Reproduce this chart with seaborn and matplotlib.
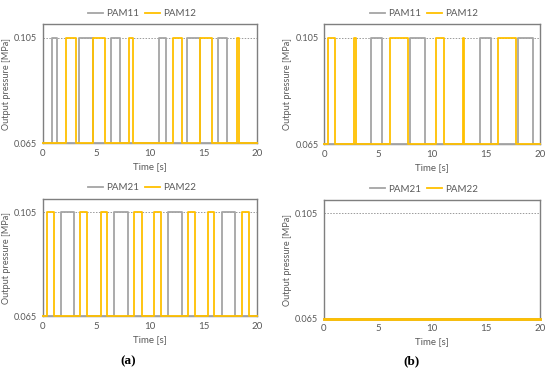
import numpy as np
import pandas as pd
import matplotlib
matplotlib.use("Agg")
import matplotlib.pyplot as plt
import seaborn as sns

# ---- data: pulse intervals (start, end) in seconds at high pressure ----
P_LOW = 0.065
P_HIGH = 0.105
T_END = 20

a_top_pam11 = [(0.84, 1.30), (3.39, 4.66), (6.37, 7.20), (10.87, 11.46), (13.42, 14.66), (16.37, 17.14)]
a_top_pam12 = [(2.17, 3.07), (4.72, 5.84), (8.07, 8.39), (12.11, 13.01), (14.62, 15.80), (18.07, 18.32)]

b_top_pam11 = [(4.32, 5.31), (7.90, 9.32), (14.41, 15.40), (17.90, 19.35)]
b_top_pam12 = [(0.37, 0.99), (2.78, 2.90), (6.08, 7.72), (10.37, 11.05), (12.81, 12.93), (16.11, 17.72)]

a_bot_pam21 = [(1.68, 2.92), (6.68, 7.92), (11.71, 12.95), (16.74, 17.92)]
a_bot_pam22 = [(0.43, 1.06), (3.48, 4.16), (5.40, 5.96), (8.51, 9.22), (10.40, 10.99),
               (13.51, 14.19), (15.43, 15.96), (18.54, 19.25)]

b_bot_pam21 = []
b_bot_pam22 = []

x_ticks = [0, 5, 10, 15, 20]
y_ticks = [0.065, 0.105]
y_tick_labels = ["0.065", "0.105"]

GRAY = "#A5A5A5"
YELLOW = "#FFC000"
TEXT = "#595959"


def step_frame(pulses, name):
    t = [0.0]
    p = [P_LOW]
    for s, e in pulses:
        t += [s, s, e, e]
        p += [P_LOW, P_HIGH, P_HIGH, P_LOW]
    t.append(T_END)
    p.append(P_LOW)
    return pd.DataFrame({"t": t, "p": p, "series": name})


plt.rcParams["font.family"] = ["Lato", "DejaVu Sans"]

fig = plt.figure(figsize=(5.5, 3.7), dpi=100)

panels = [
    ([0.0776, 0.6127, 0.3902, 0.3216], a_top_pam11, a_top_pam12, ("PAM11", "PAM12"), (142, 14), 1.3),
    ([0.5896, 0.6108, 0.3927, 0.3235], b_top_pam11, b_top_pam12, ("PAM11", "PAM12"), (424, 14), 1.3),
    ([0.0776, 0.1459, 0.3902, 0.3162], a_bot_pam21, a_bot_pam22, ("PAM21", "PAM22"), (142, 188), 1.3),
    ([0.5885, 0.1386, 0.3938, 0.3200], b_bot_pam21, b_bot_pam22, ("PAM21", "PAM22"), (424, 189), 2.0),
]

for rect, s1, s2, names, leg_pos, lw in panels:
    ax = fig.add_axes(rect)
    df = pd.concat([step_frame(s1, names[0]), step_frame(s2, names[1])], ignore_index=True)
    sns.lineplot(data=df, x="t", y="p", hue="series", palette=[GRAY, YELLOW],
                 estimator=None, sort=False, ax=ax, linewidth=lw, legend=False)
    for ln in ax.lines:
        ln.set_clip_on(False)
        ln.set_zorder(3)
    ax.axhline(P_HIGH, color="#9a9a9a", linestyle=(0, (1.5, 1.5)), linewidth=0.7, zorder=0)
    ax.set_xlim(0, 20)
    ax.set_ylim(0.065, 0.110)
    ax.set_xticks(x_ticks)
    ax.set_yticks(y_ticks)
    ax.set_yticklabels(y_tick_labels)
    ax.tick_params(axis="x", length=0, labelsize=7, labelcolor=TEXT, pad=4)
    ax.tick_params(axis="y", length=0, labelsize=6.6, labelcolor=TEXT, pad=4)
    ax.set_xlabel("Time [s]", fontsize=7, color=TEXT, labelpad=3)
    ax.set_ylabel("Output pressure [MPa]", fontsize=6.6, color=TEXT)
    ax.yaxis.set_label_coords(-0.148, 0.5)
    for sp in ax.spines.values():
        sp.set_color("#7f7f7f")
        sp.set_linewidth(1.0)
    ax.set_facecolor("white")
    handles = [plt.Line2D([], [], color=GRAY, lw=1.3), plt.Line2D([], [], color=YELLOW, lw=1.3)]
    fig.legend(handles, names, loc="center", ncol=2, frameon=False,
               bbox_to_anchor=(leg_pos[0] / 550, 1 - leg_pos[1] / 370),
               fontsize=7, labelcolor=TEXT, handlelength=1.6, handletextpad=0.3,
               columnspacing=0.6, borderpad=0)

fig.text(128 / 550, 1 - 361.5 / 370, "(a)", ha="center", va="center",
         fontsize=9.5, fontweight="bold", family=["Liberation Serif", "DejaVu Serif"])
fig.text(411 / 550, 1 - 361.5 / 370, "(b)", ha="center", va="center",
         fontsize=9.5, fontweight="bold", family=["Liberation Serif", "DejaVu Serif"])

fig.savefig("out.png", dpi=100, facecolor="white")
